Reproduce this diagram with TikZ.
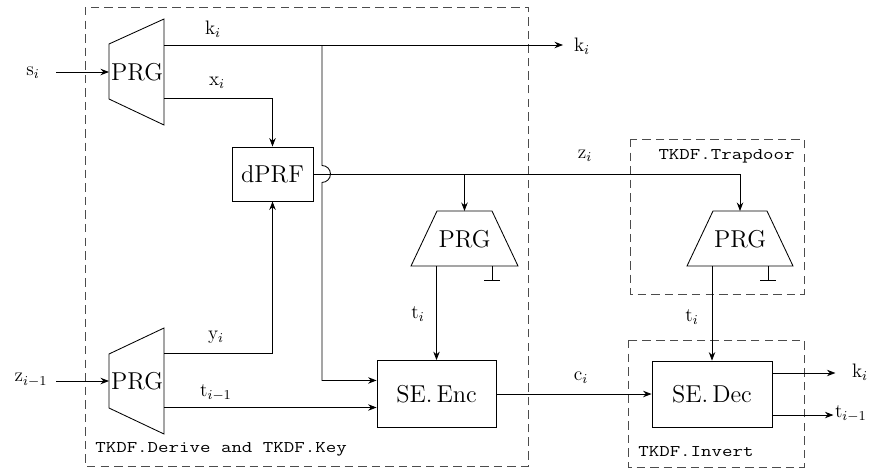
\documentclass[tikz,border=0pt]{standalone}
\usepackage{fontspec}
\usepackage{graphicx}
\usetikzlibrary{arrows.meta}
\newcommand{\grptext}[1]{\scalebox{1}[0.8]{#1}}
\tikzset{
  conn/.style={-{Stealth[length=5pt,width=3.8pt]}, line width=0.5pt},
  wire/.style={line width=0.5pt},
  blk/.style={draw, line width=0.5pt, inner sep=0pt, font=\fontsize{14.4}{17}\selectfont},
  blktxt/.style={inner sep=0pt, font=\fontsize{14.4}{17}\selectfont},
  lbl/.style={inner sep=1pt, font=\fontsize{11.5}{13}\selectfont},
  grp/.style={draw=black!70, dash pattern=on 5pt off 3pt, line width=0.5pt},
  grplbl/.style={inner sep=0pt, font=\fontsize{12}{14}\ttfamily},
}
\begin{document}
\begin{tikzpicture}[x=0.59pt, y=-0.59pt]
\useasboundingbox (0,0) rectangle (883,468);

% groups
\draw[grp] (85,7) rectangle (528,466);
\draw[grp] (630,139) rectangle (804,294);
\draw[grp] (628,340) rectangle (804,467);
\node[grplbl, anchor=west] (gDer) at (95,449) {\grptext{TKDF.Derive and TKDF.Key}};
\node[grplbl, anchor=east] (gTrap) at (795,156) {\grptext{TKDF.Trapdoor}};
\node[grplbl, anchor=west] (gInv) at (638,452) {\grptext{TKDF.Invert}};

% PRG A (top left)
\draw[wire] (109,44) -- (164,19) -- (164,125) -- (109,99) -- cycle;
\node[blktxt] (prgA) at (137,72) {PRG};
% PRG B (bottom left)
\draw[wire] (109,354) -- (164,328) -- (164,434) -- (109,408) -- cycle;
\node[blktxt] (prgB) at (137,381) {PRG};
% PRG C (middle)
\draw[wire] (437,211) -- (492,211) -- (518,266) -- (411,266) -- cycle;
\node[blktxt] (prgC) at (464.5,239) {PRG};
% PRG D (trapdoor)
\draw[wire] (713,211) -- (767,211) -- (793,266) -- (687,266) -- cycle;
\node[blktxt] (prgD) at (740,239) {PRG};

% boxes
\node[blk, minimum width=47.8pt, minimum height=31.9pt] (dprf) at (272.5,174) {dPRF};
\node[blk, minimum width=70.2pt, minimum height=39.5pt] (enc) at (436.5,394) {SE.\,Enc};
\node[blk, minimum width=70.8pt, minimum height=38.9pt] (dec) at (712,394) {SE.\,Dec};

% ports
\coordinate (aIn) at (109,72);
\coordinate (aK) at (164,45);
\coordinate (aX) at (164,98);
\coordinate (bIn) at (109,381);
\coordinate (bY) at (164,353);
\coordinate (bT) at (164,407.5);
\coordinate (kOut) at (563,45);
\coordinate (kB) at (322,45);
\coordinate (zB) at (464.5,174);
\coordinate (cTop) at (464.5,211);
\coordinate (dTop) at (740,211);
\coordinate (cOut) at (436.5,266);
\coordinate (dOut) at (712,266);
\coordinate (siS) at (56,72);
\coordinate (ziS) at (56,381);

% input labels
\node[lbl] (si) at (33,73) {$\mathrm{s}_i$};
\node[lbl] (zim) at (31,380) {$\mathrm{z}_{i-1}$};

% connectors
\draw[conn] (siS) -- (aIn);
\draw[conn] (ziS) -- (bIn);
\draw[conn] (aK) -- (kOut);
\draw[conn] (aX) -| (dprf.north);
\draw[conn] (bY) -| (dprf.south);
\draw[conn] (bT) -- (bT -| enc.west);
\draw[conn] (kB) -- (322,165.5) arc[start angle=90, end angle=-90, radius=5pt] |- ([yshift=8pt]enc.west);
\draw[conn] (dprf.east) -| (dTop);
\draw[conn] (zB) -- (cTop);
\draw[conn] (cOut) -- (enc.north);
\draw[conn] (dOut) -- (dec.north);
\draw[conn] (enc.east) -- (dec.west);
\draw[conn] ([yshift=12.4pt]dec.east) -- ++(63,0) coordinate (kDo);
\draw[conn] ([yshift=-12.4pt]dec.east) -- ++(61,0) coordinate (tDo);

% ground symbols
\draw[wire] (492,266) -- ++(0,14) coordinate (cG);
\draw[wire] ([xshift=-4.7pt]cG) -- ([xshift=4.7pt]cG);
\draw[wire] (768,266) -- ++(0,14) coordinate (dG);
\draw[wire] ([xshift=-4.7pt]dG) -- ([xshift=4.7pt]dG);

% labels
\node[lbl] (lk) at (213,29) {$\mathrm{k}_i$};
\node[lbl] (lx) at (217,83) {$\mathrm{x}_i$};
\node[lbl] (ly) at (216,337) {$\mathrm{y}_i$};
\node[lbl] (lt) at (216,393) {$\mathrm{t}_{i-1}$};
\node[lbl] (ltc) at (418,314) {$\mathrm{t}_i$};
\node[lbl] (ltd) at (692,317) {$\mathrm{t}_i$};
\node[lbl] (lz) at (585,156) {$\mathrm{z}_i$};
\node[lbl] (lc) at (581,378) {$\mathrm{c}_i$};
\node[lbl] (ko) at (582,46) {$\mathrm{k}_i$};
\node[lbl] (kd) at (860,372) {$\mathrm{k}_i$};
\node[lbl, anchor=west] (td) at (833,414) {$\mathrm{t}_{i-1}$};
\end{tikzpicture}
\end{document}
